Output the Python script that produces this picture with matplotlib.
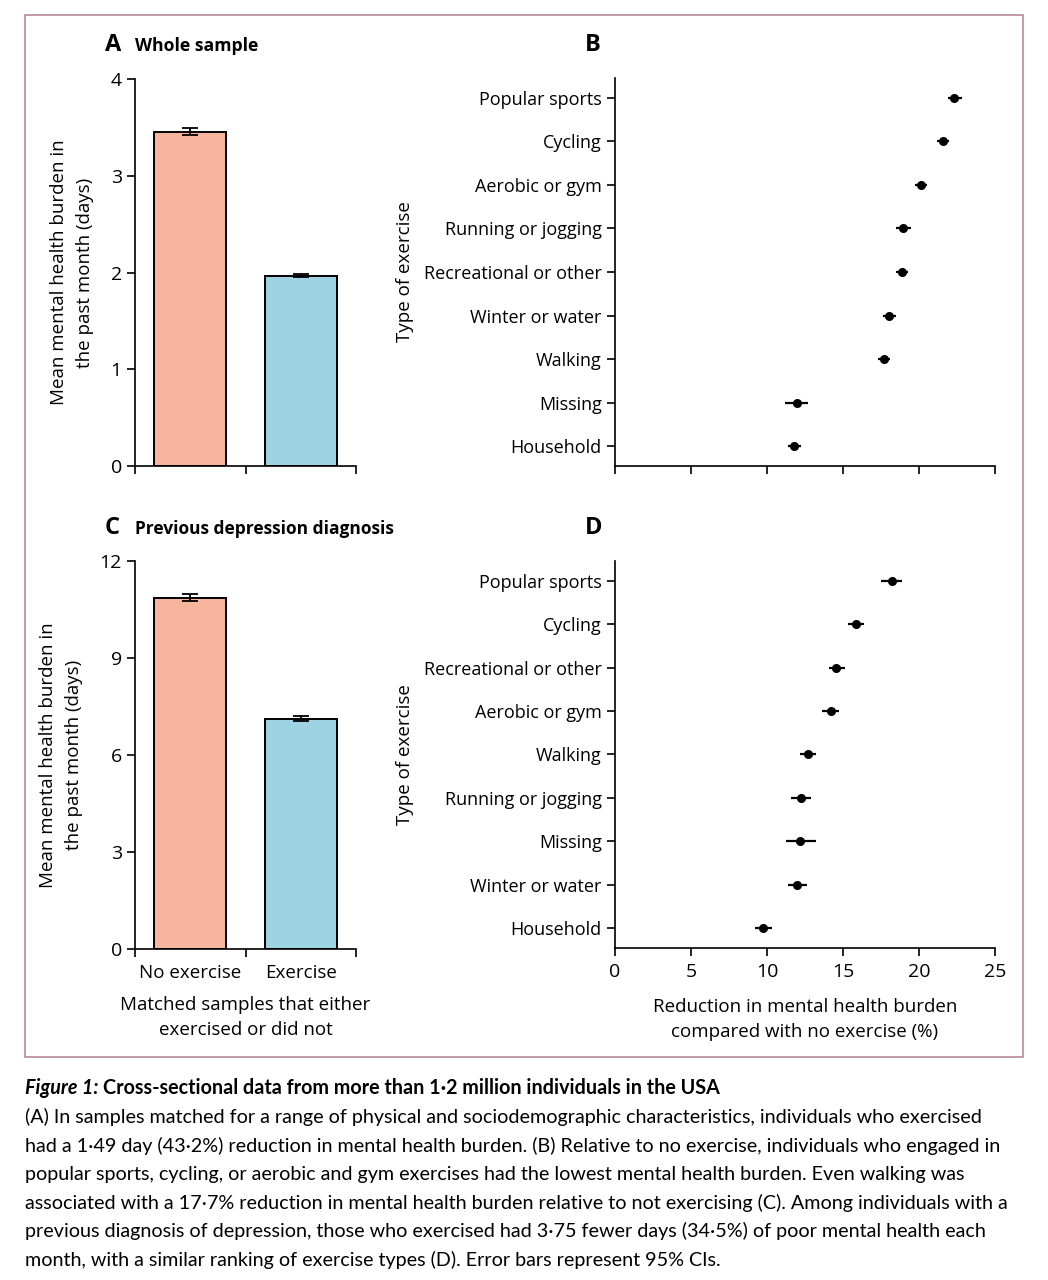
import numpy as np
import matplotlib.pyplot as plt
from matplotlib.patches import Rectangle

# panels A and C: matched samples
groups = ['No exercise', 'Exercise']
whole_mean = [3.45, 1.96]
whole_lo = [3.42, 1.95]
whole_hi = [3.49, 1.98]
dep_mean = [10.87, 7.12]
dep_lo = [10.76, 7.05]
dep_hi = [10.99, 7.21]

# panel B: whole sample by exercise type
typesB = ['Popular sports', 'Cycling', 'Aerobic or gym', 'Running or jogging',
          'Recreational or other', 'Winter or water', 'Walking', 'Missing', 'Household']
redB = [22.3, 21.55, 20.1, 18.95, 18.9, 18.05, 17.7, 11.95, 11.8]
redB_lo = [21.9, 21.2, 19.75, 18.5, 18.5, 17.6, 17.3, 11.2, 11.35]
redB_hi = [22.8, 21.95, 20.5, 19.45, 19.3, 18.5, 18.1, 12.7, 12.25]

# panel D: previous depression diagnosis by exercise type
typesD = ['Popular sports', 'Cycling', 'Recreational or other', 'Aerobic or gym',
          'Walking', 'Running or jogging', 'Missing', 'Winter or water', 'Household']
redD = [18.2, 15.85, 14.55, 14.2, 12.7, 12.25, 12.2, 12.0, 9.75]
redD_lo = [17.5, 15.35, 14.05, 13.65, 12.15, 11.6, 11.25, 11.4, 9.2]
redD_hi = [18.85, 16.35, 15.1, 14.75, 13.25, 12.9, 13.2, 12.6, 10.3]

bar_colors = ['#F7B59D', '#9ED3E3']
FONT = 'Open Sans'
W, H = 1048, 1280

plt.rcParams['font.family'] = FONT
plt.rcParams['axes.linewidth'] = 1.2
plt.rcParams['xtick.major.width'] = 1.2
plt.rcParams['ytick.major.width'] = 1.2
plt.rcParams['xtick.major.size'] = 6
plt.rcParams['ytick.major.size'] = 6

fig = plt.figure(figsize=(W / 100, H / 100), dpi=100)


def px_axes(x0, y0, x1, y1):
    # pixel box (top-left origin) -> figure axes
    return fig.add_axes([x0 / W, 1 - y1 / H, (x1 - x0) / W, (y1 - y0) / H])


def bar_panel(ax, mean, lo, hi, ymax, step, show_labels):
    x = np.arange(len(groups))
    err = [np.array(mean) - np.array(lo), np.array(hi) - np.array(mean)]
    ax.bar(x, mean, width=0.65, color=bar_colors, edgecolor='black', linewidth=1.4, zorder=2)
    ax.errorbar(x, mean, yerr=err, fmt='none', ecolor='black', elinewidth=1.3,
                capsize=6, capthick=1.3, zorder=3)
    ax.set_xlim(-0.5, 1.5)
    ax.set_ylim(0, ymax)
    ax.set_yticks(np.arange(0, ymax + 0.1, step))
    ax.set_xticks([-0.5, 0.5, 1.5])
    ax.set_xticklabels([])
    ax.set_xticks(x, minor=True)
    ax.tick_params(axis='x', which='minor', length=0, labelsize=13.5, pad=11)
    if show_labels:
        ax.set_xticklabels(groups, minor=True)
    ax.tick_params(axis='y', labelsize=14)
    ax.spines['top'].set_visible(False)
    ax.spines['right'].set_visible(False)
    ax.set_ylabel('Mean mental health burden in\nthe past month (days)', fontsize=13.5,
                  labelpad=12, linespacing=1.55)


def dot_panel(ax, types, val, lo, hi, show_labels):
    y = np.arange(len(types))
    err = [np.array(val) - np.array(lo), np.array(hi) - np.array(val)]
    ax.errorbar(val, y, xerr=err, fmt='o', color='black', markersize=5.5,
                elinewidth=1.6, capsize=0)
    ax.set_ylim(len(types) - 0.55, -0.45)
    ax.set_xlim(0, 25)
    ax.set_yticks(y)
    ax.set_yticklabels(types)
    ax.set_xticks(np.arange(0, 26, 5))
    if not show_labels:
        ax.set_xticklabels([])
    ax.tick_params(axis='y', labelsize=13)
    ax.tick_params(axis='x', labelsize=14, pad=5)
    ax.spines['top'].set_visible(False)
    ax.spines['right'].set_visible(False)
    ax.set_ylabel('Type of exercise', fontsize=13.5, labelpad=7)


axA = px_axes(135, 79, 356, 466)
bar_panel(axA, whole_mean, whole_lo, whole_hi, 4, 1, False)

axB = px_axes(615, 78, 995, 466)
dot_panel(axB, typesB, redB, redB_lo, redB_hi, False)

axC = px_axes(135, 561, 356, 949)
bar_panel(axC, dep_mean, dep_lo, dep_hi, 12, 3, True)
axC.set_xlabel('Matched samples that either\nexercised or did not', fontsize=13.5,
               labelpad=10, linespacing=1.5)

axD = px_axes(615, 561, 995, 948)
dot_panel(axD, typesD, redD, redD_lo, redD_hi, True)
axD.set_xlabel('Reduction in mental health burden\ncompared with no exercise (%)', fontsize=13.5,
               labelpad=12, linespacing=1.5)

# panel headings
fig.text(105 / W, 1 - 45 / H, 'A', fontsize=17, fontweight='bold', va='center')
fig.text(135 / W, 1 - 46 / H, 'Whole sample', fontsize=12.7, fontweight='bold', va='center')
fig.text(585 / W, 1 - 45 / H, 'B', fontsize=17, fontweight='bold', va='center')
fig.text(105 / W, 1 - 528 / H, 'C', fontsize=17, fontweight='bold', va='center')
fig.text(135 / W, 1 - 529 / H, 'Previous depression diagnosis', fontsize=12.5, fontweight='bold', va='center')
fig.text(585 / W, 1 - 528 / H, 'D', fontsize=17, fontweight='bold', va='center')

# frame around the figure panels
fig.patches.append(Rectangle((25 / W, 1 - 1057 / H), 998 / W, 1042 / H, transform=fig.transFigure,
                             fill=False, edgecolor='#B98A96', linewidth=1.2))

# caption
cap_font = ['Lato']
t = fig.text(25 / W, 1 - 1088 / H, 'Figure 1: ', fontsize=14.2, fontweight='bold', style='italic',
             family=cap_font, va='center')
fig.canvas.draw()
bb = t.get_window_extent(renderer=fig.canvas.get_renderer())
fig.text(bb.x1 / W, 1 - 1088 / H, 'Cross-sectional data from more than 1·2 million individuals in the USA',
         fontsize=14.2, fontweight='bold', family=cap_font, va='center')
caption = [
    '(A) In samples matched for a range of physical and sociodemographic characteristics, individuals who exercised',
    'had a 1·49 day (43·2%) reduction in mental health burden. (B) Relative to no exercise, individuals who engaged in',
    'popular sports, cycling, or aerobic and gym exercises had the lowest mental health burden. Even walking was',
    'associated with a 17·7% reduction in mental health burden relative to not exercising (C). Among individuals with a',
    'previous diagnosis of depression, those who exercised had 3·75 fewer days (34·5%) of poor mental health each',
    'month, with a similar ranking of exercise types (D). Error bars represent 95% CIs.',
]
for i, line in enumerate(caption):
    fig.text(25 / W, 1 - (1117 + i * 28.6) / H, line, fontsize=14.2, family=cap_font, va='center')

fig.savefig('out.png', dpi=100, facecolor='white')
